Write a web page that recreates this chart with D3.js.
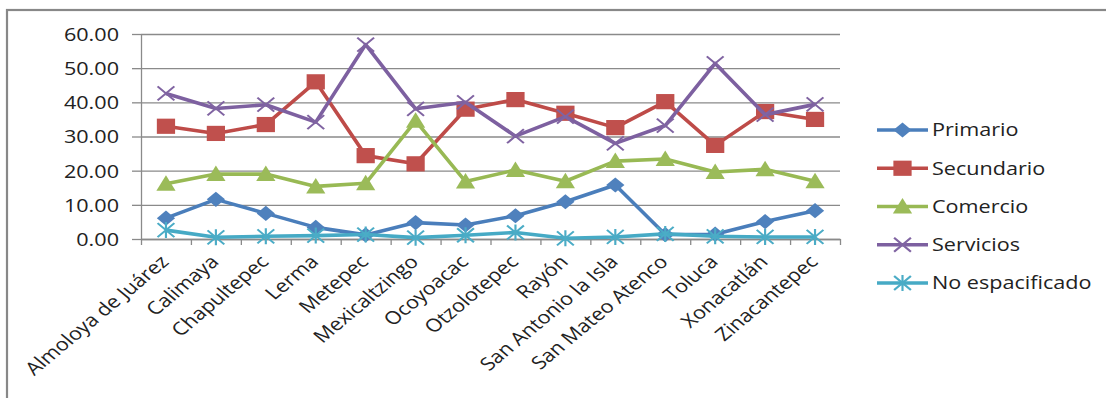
<!DOCTYPE html>
<html>
<head>
<meta charset="utf-8">
<script src="https://cdn.jsdelivr.net/npm/d3@7"></script>
<style>
  body { margin: 0; background: #fff; }
  svg text { font-family: "Open Sans", sans-serif; fill: #222; }
</style>
</head>
<body>
<div id="chart"></div>
<script>
var canvasWidth = 1106;
var canvasHeight = 398;

// data
var categories = ["Almoloya de Juárez", "Calimaya", "Chapultepec", "Lerma", "Metepec",
    "Mexicaltzingo", "Ocoyoacac", "Otzolotepec", "Rayón", "San Antonio la Isla",
    "San Mateo Atenco", "Toluca", "Xonacatlán", "Zinacantepec"];
var primario    = [6.1, 11.6, 7.5, 3.4, 1.2, 4.8, 4.1, 6.8, 10.9, 15.8, 1.3, 1.4, 5.1, 8.3];
var secundario  = [33.0, 30.9, 33.5, 46.0, 24.4, 22.0, 38.0, 40.8, 36.8, 32.6, 40.2, 27.4, 37.3, 35.0];
var comercio    = [16.2, 19.0, 19.0, 15.4, 16.3, 34.6, 16.8, 20.2, 16.9, 22.8, 23.4, 19.6, 20.4, 16.9];
var servicios   = [42.6, 38.2, 39.3, 34.2, 56.9, 38.1, 40.0, 30.1, 35.8, 28.0, 33.2, 51.4, 36.4, 39.4];
var noEsp       = [2.6, 0.5, 0.8, 1.0, 1.3, 0.4, 1.1, 1.9, 0.2, 0.6, 1.5, 0.8, 0.6, 0.6];
var seriesNames = ["Primario", "Secundario", "Comercio", "Servicios", "No espacificado"];
var yTicks = [0, 10, 20, 30, 40, 50, 60];

var series = [
    {name: seriesNames[0], values: primario,   line: "#4a7ebb", fill: "#4f81bd", shape: "diamond"},
    {name: seriesNames[1], values: secundario, line: "#be4b48", fill: "#c0504d", shape: "square"},
    {name: seriesNames[2], values: comercio,   line: "#98b954", fill: "#9bbb59", shape: "triangle"},
    {name: seriesNames[3], values: servicios,  line: "#7d60a0", fill: "#8064a2", shape: "x"},
    {name: seriesNames[4], values: noEsp,      line: "#46aac5", fill: "#4bacc6", shape: "star"}
];

var stretch = 1.2;   // the picture is a bit wider than tall

var svg = d3.select("#chart").append("svg")
    .attr("width", canvasWidth)
    .attr("height", canvasHeight)

// outer frame, runs off the right and bottom
svg.append("rect")
    .attr("x", 7).attr("y", 10)
    .attr("width", 1200).attr("height", 500)
    .attr("fill", "none")
    .attr("stroke", "#888")
    .attr("stroke-width", 2.2)

var plotLeft = 141, plotRight = 840, plotTop = 34, plotBottom = 239;

var xScale = d3.scaleBand().domain(categories).range([plotLeft, plotRight]);
var xEdges = d3.scaleLinear().domain([0, categories.length]).range([plotLeft, plotRight]);
var yScale = d3.scaleLinear().domain([0, 60]).range([plotBottom, plotTop]);

// gridlines
svg.append("g")
    .attr("transform", "translate(" + plotLeft + ",0)")
    .call(d3.axisLeft(yScale).tickValues(yTicks).tickSize(-(plotRight - plotLeft)).tickFormat(""))
    .call(g => g.select(".domain").remove())
    .call(g => g.selectAll("line").attr("stroke", "#8a8a8a").attr("stroke-width", 1.3))

// y axis with labels
svg.append("g")
    .attr("transform", "translate(" + plotLeft + ",0)")
    .call(d3.axisLeft(yScale).tickValues(yTicks).tickSize(9).tickSizeOuter(0).tickFormat(d3.format(".2f")))
    .call(g => g.select(".domain").attr("stroke", "#8a8a8a").attr("stroke-width", 1.3))
    .call(g => g.selectAll("line").attr("stroke", "#8a8a8a").attr("stroke-width", 1.3))
    .call(g => g.selectAll("text")
        .attr("x", 0)
        .attr("dy", "0.36em")
        .attr("font-size", "18px")
        .attr("transform", "translate(-22,0) scale(" + stretch + ",1)"))

// x axis line + ticks on category edges
svg.append("g")
    .attr("transform", "translate(0," + plotBottom + ")")
    .call(d3.axisBottom(xEdges).tickValues(d3.range(categories.length + 1)).tickSize(6).tickSizeOuter(0).tickFormat(""))
    .call(g => g.select(".domain").attr("stroke", "#8a8a8a").attr("stroke-width", 1.3))
    .call(g => g.selectAll("line").attr("stroke", "#8a8a8a").attr("stroke-width", 1.3))

// category labels, rotated
svg.append("g")
    .attr("transform", "translate(0," + plotBottom + ")")
    .call(d3.axisBottom(xScale).tickSize(0))
    .call(g => g.select(".domain").remove())
    .call(g => g.selectAll("text")
        .attr("x", 0).attr("y", 0).attr("dy", 0)
        .attr("font-size", "18px")
        .attr("text-anchor", "end")
        .attr("transform", "translate(4,24) scale(" + stretch + ",1) rotate(-45)"))

function drawMarker(g, shape, s) {
    if (shape === "diamond") {
        g.append("path").attr("d", "M0,-7.6L7.6,0L0,7.6L-7.6,0Z").attr("fill", s.fill);
    } else if (shape === "square") {
        g.append("rect").attr("x", -7.6).attr("y", -7.6).attr("width", 15.2).attr("height", 15.2).attr("fill", s.fill);
    } else if (shape === "triangle") {
        g.append("path").attr("d", "M0,-8.5L8,7L-8,7Z").attr("fill", s.fill);
    } else if (shape === "x") {
        g.append("path").attr("d", "M-7,-7L7,7M-7,7L7,-7")
            .attr("stroke", s.fill).attr("stroke-width", 1.8).attr("fill", "none");
    } else {
        g.append("path").attr("d", "M-7,-7L7,7M-7,7L7,-7M0,-8L0,8")
            .attr("stroke", s.fill).attr("stroke-width", 1.8).attr("fill", "none");
    }
}

var line = d3.line()
    .x(function(d, i) { return xScale(categories[i]) + xScale.bandwidth() / 2 })
    .y(function(d) { return yScale(d) })

series.forEach(function(s) {
    svg.append("path")
        .datum(s.values)
        .attr("fill", "none")
        .attr("stroke", s.line)
        .attr("stroke-width", 3.6)
        .attr("stroke-linejoin", "round")
        .attr("d", line)

    s.values.forEach(function(v, i) {
        var g = svg.append("g")
            .attr("transform", "translate(" + (xScale(categories[i]) + xScale.bandwidth() / 2) + "," + yScale(v) + ") scale(" + stretch + ",1)");
        drawMarker(g, s.shape, s);
    })
})

// legend
var legendY = d3.scaleLinear().domain([0, 4]).range([130, 283]);
series.forEach(function(s, i) {
    var y = legendY(i);
    svg.append("line")
        .attr("x1", 877).attr("x2", 928)
        .attr("y1", y).attr("y2", y)
        .attr("stroke", s.line)
        .attr("stroke-width", 3.6)
    var g = svg.append("g")
        .attr("transform", "translate(902.5," + y + ") scale(" + stretch + ",1)");
    drawMarker(g, s.shape, s);
    svg.append("text")
        .attr("font-size", "18px")
        .attr("dy", "0.36em")
        .attr("transform", "translate(932," + y + ") scale(" + stretch + ",1)")
        .text(s.name)
})
</script>
</body>
</html>
